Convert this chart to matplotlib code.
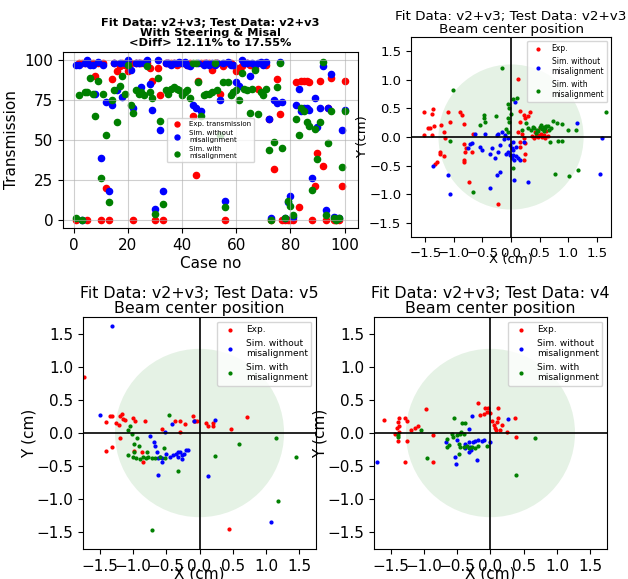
import numpy as np
import matplotlib.pyplot as plt

# transmission per case (%)
cases = np.arange(1, 101)
exp_tr = [0, 98, 98, 98, 0, 98, 98, 90, 98, 0,
          98, 20, 0, 88, 98, 93, 96, 98, 97, 93,
          98, 0, 98, 98, 98, 98, 98, 95, 87, 0,
          95, 78, 0, 98, 98, 98, 98, 97, 98, 98,
          98, 97, 98, 65, 28, 87, 98, 98, 98, 98,
          94, 98, 98, 79, 96, 0, 98, 98, 97, 93,
          95, 96, 98, 98, 97, 97, 95, 82, 98, 98,
          97, 63, 0, 32, 88, 66, 0, 0, 0, 0,
          0, 86, 8, 87, 87, 87, 86, 0, 21, 42,
          87, 34, 0, 70, 89, 0, 0, 0, 21, 87]
sim_no_tr = [97, 97, 0, 98, 100, 97, 97, 79, 99, 39,
             97, 74, 18, 72, 98, 81, 98, 77, 98, 100,
             94, 70, 98, 98, 83, 98, 100, 85, 69, 7,
             100, 56, 18, 98, 98, 97, 98, 98, 99, 98,
             99, 97, 96, 72, 70, 98, 68, 97, 98, 97,
             98, 97, 98, 75, 98, 12, 99, 97, 97, 86,
             84, 100, 98, 98, 90, 98, 97, 98, 99, 97,
             99, 63, 1, 75, 73, 99, 74, 1, 11, 15,
             2, 72, 82, 68, 70, 70, 69, 26, 76, 58,
             70, 96, 6, 70, 91, 2, 1, 1, 56, 69]
sim_mis_tr = [1, 78, 0, 80, 80, 89, 79, 65, 87, 26,
              79, 53, 11, 75, 81, 61, 84, 90, 79, 97,
              72, 67, 81, 79, 80, 78, 96, 80, 76, 4,
              89, 62, 10, 81, 79, 82, 83, 82, 81, 78,
              80, 81, 76, 98, 98, 86, 65, 78, 79, 79,
              80, 98, 81, 53, 86, 8, 86, 78, 80, 81,
              75, 92, 82, 81, 67, 82, 94, 66, 80, 78,
              82, 44, 0, 49, 83, 98, 45, 1, 12, 9,
              3, 63, 53, 70, 68, 61, 59, 19, 57, 38,
              61, 99, 3, 48, 68, 1, 0, 1, 33, 68]

# beam centre, test v2+v3 (cm)
a_exp_x = [-1.53, -1.36, -1.39, -1.45, -1.41, -1.35, -1.53, -1.39, -1.18, -1.22,
           -1.10, -1.07, -0.90, -0.86, -0.83, -0.67, -1.16, -1.24, -1.25, -1.30,
           -1.33, -1.18, -0.83, -0.78, -0.80, -0.69, -0.83, -0.83, -0.73, -0.22,
           0.13, 0.16, 0.25, 0.30, 0.22, 0.16, 0.33, 0.13, 0.19, 0.22,
           0.25, 0.16, 0.16, 0.25, 0.22, 0.42, 0.51, 0.57, 0.62, 0.65,
           0.36, 0.40, 0.45, 0.48, 0.53, 0.58, 0.60, 0.44, 0.50, 0.55]
a_exp_y = [0.43, 0.49, 0.41, 0.16, 0.16, 0.20, 0.03, 0.03, 0.09, 0.21,
           0.43, 0.26, 0.43, 0.39, 0.22, 0.06, -0.02, -0.26, -0.30, -0.43,
           -0.48, -0.34, -0.13, -0.20, -0.26, -0.26, -0.40, -0.43, -0.79, -1.18,
           1.02, 0.46, 0.34, 0.36, 0.39, 0.26, 0.44, 0.08, 0.06, -0.02,
           -0.11, -0.08, -0.17, -0.29, -0.40, 0.08, 0.15, 0.04, 0.11, 0.01,
           0.02, -0.01, 0.03, 0.00, 0.05, 0.02, -0.02, 0.01, 0.04, 0.00]
a_no_x = [-0.63, -0.72, -0.69, -0.75, -0.54, -0.51, -0.37, -0.34, -0.25, -0.22,
          -0.16, -0.13, -0.11, -0.05, -0.02, 0.01, 0.04, -0.05, -0.08, -0.02,
          0.04, 0.09, 0.13, 0.01, 0.06, 0.16, -0.19, -0.22, 0.04, 0.09,
          -0.28, -0.19, -0.25, -0.37, 0.05, 0.30, -1.07, -1.36, -1.10, 0.07,
          1.15, 1.60, 1.55, 0.22, -0.45]
a_no_y = [0.06, -0.13, -0.11, -0.20, -0.17, -0.23, -0.29, -0.20, 0.04, 0.06,
          0.09, -0.04, 0.04, -0.02, -0.14, -0.20, -0.23, -0.26, -0.29, -0.32,
          -0.32, -0.33, -0.37, -0.37, -0.40, -0.40, -0.14, -0.26, -0.09, -0.17,
          -0.37, -0.61, -0.67, -0.90, -0.76, -0.78, -0.99, -0.50, -0.67, 0.62,
          0.24, -0.01, -0.64, -0.08, 0.06]
a_mis_x = [-0.15, -1.01, 0.03, 0.10, -0.05, -0.03, 0.00, -0.05, -0.47, -0.47,
           -0.45, -0.26, -0.54, -0.03, -0.08, -0.05, -1.07, 0.27, 0.20, 0.30,
           0.35, 0.40, 0.45, 0.50, 0.55, 0.60, 0.65, 0.70, 0.38, 0.48,
           0.58, 0.62, 0.74, 0.80, 0.89, 1.00, 1.13, 1.66, 0.68, 0.83,
           0.89, 0.04, 0.77, 1.02, 1.18, -0.67, 0.52, 0.43, 0.57, 0.66]
a_mis_y = [1.20, 0.82, 0.67, 0.69, 0.57, 0.50, 0.41, 0.33, 0.39, 0.33,
           0.26, 0.36, 0.21, 0.26, 0.14, 0.09, -0.07, 0.24, 0.12, 0.16,
           0.13, 0.15, 0.12, 0.17, 0.14, 0.16, 0.19, 0.15, 0.18, 0.10,
           0.11, 0.20, 0.28, 0.24, 0.22, 0.13, 0.12, 0.43, -0.08, -0.07,
           -0.07, -0.54, -0.64, -0.68, -0.57, -0.97, 0.21, 0.07, 0.18, 0.13]

# beam centre, test v5 (cm)
b_exp_x = [-1.73, 0.45, 0.71, 0.47, -1.40, -1.34, -1.32, -1.26, -1.21, -1.19,
           -1.17, -1.15, -1.12, -1.00, -0.97, -0.82, -1.20, -1.32, -1.41, -0.57,
           -0.37, -0.30, -0.29, -0.22, -0.10, -0.09, -0.07, -0.04, 0.10, 0.12,
           0.20, 0.21, -0.85, -0.87, -0.99]
b_exp_y = [0.84, -1.45, 0.24, 0.06, 0.16, 0.26, 0.26, 0.15, 0.12, 0.25,
           0.28, 0.21, 0.20, 0.23, 0.18, 0.18, -0.07, -0.21, -0.27, 0.06,
           0.18, 0.18, 0.01, 0.13, 0.26, 0.18, 0.18, 0.18, 0.15, 0.10,
           0.15, 0.11, -0.43, -0.28, -0.27]
b_no_x = [-1.31, -1.49, -0.75, -0.69, -0.67, -0.64, -0.60, -0.57, -0.62, -0.52,
          -0.42, -0.51, -0.45, -0.40, -0.35, -0.32, -0.29, -0.27, -0.24, -0.20,
          -0.17, -0.27, -0.33, -0.09, 0.23, 0.13, 1.07, -0.62, -0.57]
b_no_y = [1.61, 0.27, -0.04, -0.13, -0.19, -0.28, -0.36, -0.43, -0.63, 0.01,
          0.13, -0.31, -0.36, -0.33, -0.32, -0.36, -0.28, -0.33, -0.31, -0.26,
          -0.26, -0.39, -0.29, 0.18, 0.20, -0.65, -1.34, -0.37, -0.38]
b_mis_x = [-0.46, -1.05, -1.07, -1.02, -0.98, -0.94, -0.91, -1.07, -0.99, -1.00,
           -0.95, -0.90, -0.85, -0.80, -0.77, -0.72, -0.67, -0.60, -0.52, -0.79,
           -0.53, -0.32, 0.24, 0.59, 1.15, 1.45, 1.18, -0.72]
b_mis_y = [0.27, 0.11, 0.05, -0.02, -0.16, -0.08, -0.20, -0.33, -0.29, -0.36,
           -0.38, -0.39, -0.36, -0.38, -0.36, -0.38, -0.37, -0.36, -0.37, -0.28,
           -0.23, -0.57, -0.35, -0.16, -0.07, -0.36, -1.03, -1.47]

# beam centre, test v4 (cm)
c_exp_x = [-1.60, -1.38, -1.39, -1.37, -1.41, -1.38, -1.39, -1.43, -1.28, -1.26,
           -1.19, -1.14, -1.09, -0.97, -1.26, -1.28, -0.86, -0.86, -0.19, -0.15,
           -0.10, -0.05, -0.08, -0.04, 0.00, 0.02, 0.05, 0.07, 0.10, 0.12,
           0.18, 0.12, 0.37, 0.25, 0.38, 0.08, 0.15]
c_exp_y = [0.20, 0.23, 0.16, 0.10, 0.07, 0.02, -0.12, -0.01, 0.23, 0.18,
           0.05, 0.07, 0.11, 0.36, -0.12, -0.43, -0.43, -0.03, 0.46, 0.27,
           0.28, 0.32, 0.37, 0.38, 0.30, 0.18, 0.12, 0.07, 0.17, 0.23,
           0.12, 0.38, 0.23, 0.01, -0.06, 0.05, 0.05]
c_no_x = [-1.70, -0.28, -0.33, -0.67, -0.51, -0.53, -0.52, -0.38, -0.33, -0.31,
          -0.26, -0.23, -0.18, -0.13, -0.10, 0.00, -0.20, -0.33, -0.29, -0.38,
          0.26]
c_no_y = [-0.43, 0.26, 0.06, -0.13, -0.11, -0.36, -0.47, -0.16, -0.13, -0.21,
          -0.13, -0.12, -0.11, -0.12, -0.11, -0.13, -0.41, -0.29, -0.26, -0.23,
          0.21]
c_mis_x = [-1.04, -1.39, -0.55, -0.43, -0.38, -0.58, -0.56, -0.51, -0.66, -0.63,
           -0.66, -0.48, -0.46, -0.40, -0.35, -0.33, -0.28, -0.23, -0.18, -0.05,
           -0.46, -0.44, -0.40, -0.96, -0.48, 0.67, 0.38, -1.39]
c_mis_y = [0.05, -0.06, 0.22, 0.15, 0.15, -0.02, -0.06, -0.03, -0.09, -0.18,
           -0.21, -0.17, -0.21, -0.21, -0.19, -0.23, -0.21, -0.22, -0.19, -0.19,
           -0.01, 0.02, -0.01, -0.38, -0.31, -0.07, -0.63, -0.03]

fig = plt.figure(figsize=(6.28, 5.79), dpi=100)

# transmission panel
ax1 = fig.add_axes([0.1003, 0.6062, 0.4697, 0.304])
ax1.scatter(cases, exp_tr, color='red', s=20, label='Exp. transmission')
ax1.scatter(cases, sim_no_tr, color='blue', s=20, label='Sim. without\nmisalignment')
ax1.scatter(cases, sim_mis_tr, color='green', s=20, label='Sim. with\nmisalignment')
ax1.set_xticks([0, 20, 40, 60, 80, 100])
ax1.set_yticks([0, 25, 50, 75, 100])
ax1.tick_params(labelsize=11)
ax1.set_xlabel('Case no', fontsize=11, labelpad=2)
ax1.set_ylabel('Transmission', fontsize=11)
ax1.set_title('Fit Data: v2+v3; Test Data: v2+v3\nWith Steering & Misal\n<Diff> 12.11% to 17.55%',
              fontsize=8.2, fontweight='bold', linespacing=1.0, pad=4)
ax1.grid(True, alpha=0.6)
ax1.legend(loc='center', fontsize=5, markerscale=0.8)


def beam_panel(rect, title, ex, ey, nx, ny, mx, my, fs, tfs, lfs):
    ax = fig.add_axes(rect)
    ax.add_patch(plt.Circle((0, 0), 1.27, color='green', alpha=0.1, lw=0))
    ax.scatter(ex, ey, color='red', s=4, label='Exp.')
    ax.scatter(nx, ny, color='blue', s=4, label='Sim. without\nmisalignment')
    ax.scatter(mx, my, color='green', s=4, label='Sim. with\nmisalignment')
    ax.axhline(0, color='black', lw=1.2)
    ax.axvline(0, color='black', lw=1.2)
    ax.set_xlim(-1.75, 1.75)
    ax.set_ylim(-1.75, 1.75)
    ticks = [-1.5, -1.0, -0.5, 0.0, 0.5, 1.0, 1.5]
    ax.set_xticks(ticks)
    ax.set_yticks(ticks)
    ax.tick_params(labelsize=fs)
    ax.set_xlabel('X (cm)', fontsize=fs, labelpad=-5)
    ax.set_ylabel('Y (cm)', fontsize=fs, labelpad=0)
    ax.set_title(title, fontsize=tfs, linespacing=1.0, pad=3)
    ax.legend(loc='upper right', fontsize=lfs)
    return ax


beam_panel([0.6545, 0.5907, 0.3185, 0.3454],
           'Fit Data: v2+v3; Test Data: v2+v3\nBeam center position',
           a_exp_x, a_exp_y, a_no_x, a_no_y, a_mis_x, a_mis_y, 9.5, 9.7, 5.5)
beam_panel([0.1322, 0.0518, 0.371, 0.4007],
           'Fit Data: v2+v3; Test Data: v5\nBeam center position',
           b_exp_x, b_exp_y, b_no_x, b_no_y, b_mis_x, b_mis_y, 11, 11.4, 6.5)
beam_panel([0.5955, 0.0518, 0.371, 0.4007],
           'Fit Data: v2+v3; Test Data: v4\nBeam center position',
           c_exp_x, c_exp_y, c_no_x, c_no_y, c_mis_x, c_mis_y, 11, 11.4, 6.5)

plt.savefig('out.png', dpi=100)
